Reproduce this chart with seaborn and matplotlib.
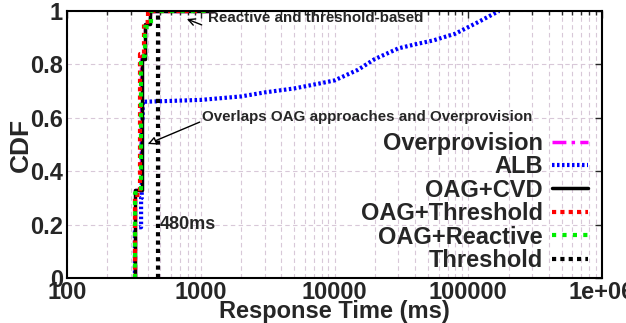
import matplotlib
matplotlib.use("Agg")
import matplotlib.pyplot as plt
import seaborn as sns
import numpy as np
import pandas as pd
from matplotlib.ticker import LogLocator, FixedLocator, NullFormatter

# ---- data ----
over_x = [322, 322, 360, 360, 384, 384, 420, 420, 1230]
over_y = [0.0, 0.33, 0.33, 0.83, 0.83, 0.95, 0.95, 1.0, 1.0]

alb_x = [322, 322, 358, 358, 362, 362, 368, 368, 500, 1000, 2000, 3000, 5000, 8000, 10000,
         15000, 20000, 30000, 40000, 55000, 80000, 115000, 170000]
alb_y = [0.0, 0.19, 0.19, 0.30, 0.30, 0.58, 0.60, 0.66, 0.662, 0.667, 0.68, 0.695, 0.71, 0.73, 0.74,
         0.78, 0.82, 0.86, 0.875, 0.89, 0.915, 0.955, 1.0]

cvd_x = [322, 322, 363, 363, 383, 383, 417, 417, 1230]
cvd_y = [0.0, 0.33, 0.33, 0.82, 0.82, 0.95, 0.95, 1.0, 1.0]

thr_x = [322, 322, 349, 349, 375, 375, 405, 405, 1230]
thr_y = [0.0, 0.31, 0.31, 0.84, 0.84, 0.96, 0.96, 1.0, 1.0]

rea_x = [322, 322, 356, 356, 380, 380, 425, 425, 1230]
rea_y = [0.0, 0.32, 0.32, 0.83, 0.83, 0.94, 0.94, 1.0, 1.0]

threshold_x = [480, 480]
threshold_y = [0.0, 1.0]

labels = ["Overprovision", "ALB", "OAG+CVD", "OAG+Threshold", "OAG+Reactive", "Threshold"]

series = [
    (over_x, over_y, dict(color="#ff00ff", linestyle=(0, (4, 1.5, 1, 1.5)), linewidth=2.5)),
    (alb_x, alb_y, dict(color="#0000ff", linestyle=(0, (0.6, 0.6)), linewidth=3.0)),
    (cvd_x, cvd_y, dict(color="black", linestyle="-", linewidth=2.5)),
    (thr_x, thr_y, dict(color="#ff0000", linestyle=(0, (1, 1)), linewidth=3.0)),
    (rea_x, rea_y, dict(color="#00ee00", linestyle=(0, (1, 1.5)), linewidth=3.0)),
    (threshold_x, threshold_y, dict(color="black", linestyle=(0, (1, 1)), linewidth=3.0)),
]

sns.set_theme(style="white")
plt.rcParams["font.family"] = ["Liberation Sans", "DejaVu Sans"]
plt.rcParams["font.weight"] = "bold"

fig = plt.figure(figsize=(6.26, 3.23), dpi=100)
ax = fig.add_axes([67 / 626, 1 - 278 / 323, (602 - 67) / 626, (278 - 11) / 323])

for (xs, ys, st), lab in zip(series, labels):
    df = pd.DataFrame({"x": xs, "y": ys})
    sns.lineplot(data=df, x="x", y="y", ax=ax, estimator=None, sort=False,
                 label=lab, **st)

ax.set_xscale("log")
ax.set_xlim(100, 1e6)
ax.set_ylim(0, 1)

ax.xaxis.set_major_locator(FixedLocator([100, 1000, 10000, 100000, 1000000]))
ax.set_xticklabels(["100", "1000", "10000", "100000", "1e+06"])
ax.xaxis.set_minor_locator(LogLocator(base=10, subs=np.arange(2, 10), numticks=20))
ax.xaxis.set_minor_formatter(NullFormatter())
ax.set_yticks([0, 0.2, 0.4, 0.6, 0.8, 1.0])
ax.set_yticklabels(["0", "0.2", "0.4", "0.6", "0.8", "1"])

ax.grid(True, which="major", color="#d8c8d8", linestyle=(0, (4, 3)), linewidth=0.8)
ax.grid(True, which="minor", axis="x", color="#d8c8d8", linestyle=(0, (4, 3)), linewidth=0.8)
ax.set_axisbelow(True)

ax.tick_params(axis="both", which="both", direction="in", top=True, right=True)
ax.tick_params(axis="both", which="major", length=5, labelsize=17, width=1)
ax.tick_params(axis="both", which="minor", length=3)
ax.tick_params(axis="x", pad=2)
ax.tick_params(axis="y", pad=3)
for lab in ax.get_xticklabels() + ax.get_yticklabels():
    lab.set_fontweight("bold")
for s in ax.spines.values():
    s.set_color("black")
    s.set_linewidth(1.5)

ax.set_xlabel("Response Time (ms)", fontsize=17, fontweight="bold", labelpad=-3)
ax.set_ylabel("CDF", fontsize=19, fontweight="bold", labelpad=-2)

leg = ax.legend(loc="lower right", bbox_to_anchor=(1.004, -0.04), markerfirst=False,
                frameon=False, fontsize=17, handlelength=1.5, handletextpad=0.4,
                labelspacing=0.02, borderaxespad=0.3)
for t in leg.get_texts():
    t.set_fontweight("bold")

ax.text(1128, 0.974, "Reactive and threshold-based", fontsize=10.9, fontweight="bold",
        va="center", ha="left")
ax.annotate("", xy=(787, 0.97), xytext=(1016, 0.948),
            arrowprops=dict(arrowstyle="->", color="black", lw=1, shrinkA=0, shrinkB=0))
ax.text(1016, 0.603, "Overlaps OAG approaches and Overprovision", fontsize=10.9,
        fontweight="bold", va="center", ha="left")
ax.annotate("", xy=(402, 0.502), xytext=(983, 0.584),
            arrowprops=dict(arrowstyle="-|>", fc="white", color="black", lw=1,
                            shrinkA=0, shrinkB=0, mutation_scale=12))
ax.text(497, 0.2, "480ms", fontsize=13, fontweight="bold", va="center", ha="left")

fig.savefig("out.png", dpi=100)
